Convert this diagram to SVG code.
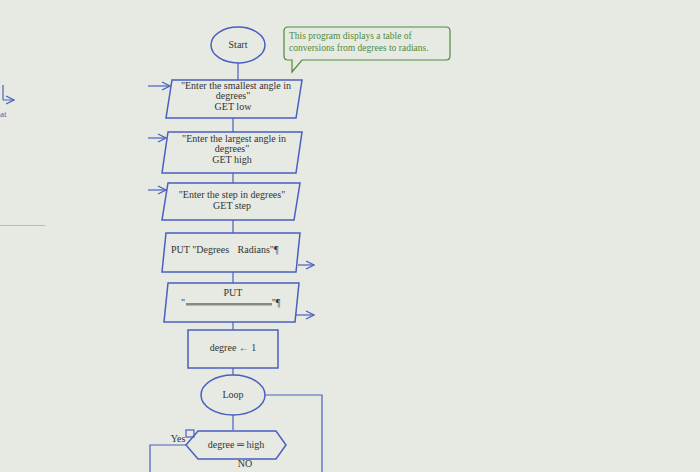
<svg xmlns="http://www.w3.org/2000/svg" width="700" height="472" viewBox="0 0 700 472">
<defs>
<style>
.s{fill:none;stroke:#4a5fc0;stroke-width:1.5}
.t{font-family:"Liberation Serif",serif;font-size:10px;fill:#333;text-anchor:middle}
.c{fill:none;stroke:#4a5fc0;stroke-width:1.2}
</style>
<marker id="a" markerWidth="10" markerHeight="10" refX="9" refY="5" orient="auto" markerUnits="userSpaceOnUse"><path d="M1,1 L9,5 L1,9" fill="none" stroke="#4a5fc0" stroke-width="1.2"/></marker>
</defs>
<rect width="700" height="472" fill="#e6eae2"/>
<rect x="0" y="225" width="45" height="1" fill="#b9bdb6"/>
<text x="0" y="117" font-family="Liberation Serif,serif" font-size="9" fill="#4a5fc0">at</text>
<path d="M3,85 V100 M3,100 L14,100" class="c" marker-end="url(#a)"/>
<g id="connectors">
<path class="c" d="M238,63 V80 M233,118 V132 M233,173 V183 M233,220 V233 M233,272 V283 M233,322 V330 M233,368 V375 M233,415 V430 M265,395 H322 V472 M186,445 H150 V472"/>
<path class="c" marker-end="url(#a)" d="M148,86 H170"/>
<path class="c" marker-end="url(#a)" d="M148,138 H166"/>
<path class="c" marker-end="url(#a)" d="M148,190 H166"/>
<path class="c" marker-end="url(#a)" d="M298,265 H314"/>
<path class="c" marker-end="url(#a)" d="M296,315 H314"/>
</g>
<g id="start"><ellipse cx="238" cy="45" rx="27" ry="18" class="s"/><text x="238" y="48" class="t" font-size="9" font-family="Liberation Sans,sans-serif">Start</text></g>
<g id="note"><path d="M288,27 H446 Q450,27 450,31 V56 Q450,60 446,60 H302 L292,72 L292,60 H288 Q284,60 284,56 V31 Q284,27 288,27 Z" fill="none" stroke="#4f8a3d" stroke-width="1.2"/>
<text x="289" y="39" font-family="Liberation Serif,serif" font-size="9.5" fill="#4f8a3d">This program displays a table of</text>
<text x="289" y="51" font-family="Liberation Serif,serif" font-size="9.5" fill="#4f8a3d">conversions from degrees to radians.</text></g>
<g id="in1"><path class="s" d="M172,80 H302 L296,118 H166 Z"/><text x="236" y="89" class="t">"Enter the smallest angle in</text><text x="233" y="99" class="t">degrees"</text><text x="233" y="110" class="t">GET low</text></g>
<g id="in2"><path class="s" d="M168,132 H302 L296,173 H162 Z"/><text x="234" y="142" class="t">"Enter the largest angle in</text><text x="232" y="152" class="t">degrees"</text><text x="232" y="163" class="t">GET high</text></g>
<g id="in3"><path class="s" d="M168,183 H300 L294,220 H162 Z"/><text x="232" y="198" class="t">"Enter the step in degrees"</text><text x="232" y="209" class="t">GET step</text></g>
<g id="out1"><path class="s" d="M166,233 H300 L296,272 H162 Z"/><text x="200" y="253" class="t">PUT "Degrees</text><text x="258" y="253" class="t">Radians"¶</text></g>
<g id="out2"><path class="s" d="M168,283 H299 L295,322 H164 Z"/><text x="233" y="296" class="t">PUT</text><text x="183" y="306" class="t">"</text><rect x="186" y="303" width="86" height="2.5" fill="#888"/><text x="276" y="306" class="t">"¶</text></g>
<g id="assign"><rect x="188" y="330" width="90" height="38" class="s"/><text x="233" y="351" class="t">degree ← 1</text></g>
<g id="loop"><ellipse cx="233" cy="395" rx="32" ry="20" class="s"/><text x="233" y="398" class="t">Loop</text></g>
<g id="decision"><path class="s" d="M186,445 L198,431 H276 L286,445 L276,459 H198 Z"/><text x="236" y="448" class="t">degree ═ high</text>
<rect x="186" y="430" width="8" height="7" class="c"/><text x="178" y="442" class="t" font-size="5">Yes</text><text x="245" y="467" class="t" font-size="5">NO</text></g>
</svg>
